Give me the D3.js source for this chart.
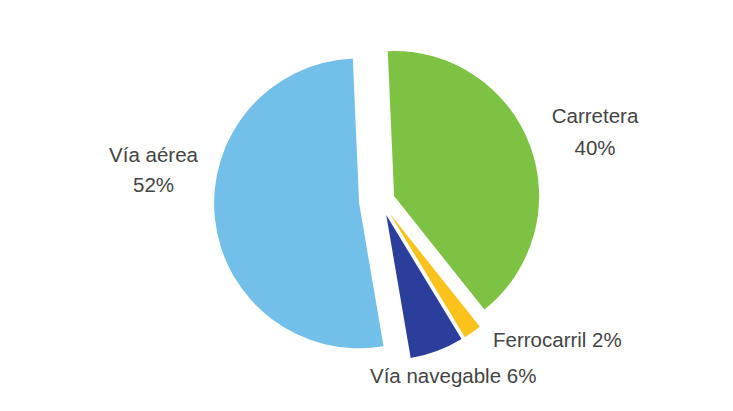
<!DOCTYPE html>
<html>
<head>
<meta charset="utf-8">
<script src="https://cdn.jsdelivr.net/npm/d3@7"></script>
<style>
  html, body { margin: 0; padding: 0; background: #ffffff; }
  svg { display: block; }
  text { font-family: "Liberation Sans", Arial, Helvetica, sans-serif; fill: #444444; }
</style>
</head>
<body>
<svg id="chart" width="733" height="411"></svg>
<script>
// Modal split of transport (percent share)
const categories = ["Carretera", "Ferrocarril", "Vía navegable", "Vía aérea"];
const shares = [40, 2, 6, 52];
const colors = ["#7dc243", "#fbc21b", "#2c3e9c", "#72bfe9"];
// How far each wedge is pulled out from the centre (px)
const explode = [14, 15, 15, 22];

const width = 733, height = 411;
const cx = 381, cy = 201, radius = 145;
const rotation = -2.5 * Math.PI / 180;

const svg = d3.select("#chart");
const g = svg.append("g").attr("transform", `translate(${cx},${cy})`);

const pie = d3.pie()
  .value(d => d.value)
  .sort(null)
  .startAngle(rotation)
  .endAngle(rotation + 2 * Math.PI);

const arc = d3.arc().innerRadius(0).outerRadius(radius);

const data = categories.map((c, i) => ({ name: c, value: shares[i], color: colors[i], pull: explode[i] }));

g.selectAll("path.slice")
  .data(pie(data))
  .join("path")
  .attr("class", "slice")
  .attr("fill", d => d.data.color)
  .attr("transform", d => {
    const mid = (d.startAngle + d.endAngle) / 2;
    const dx = Math.sin(mid) * d.data.pull;
    const dy = -Math.cos(mid) * d.data.pull;
    return `translate(${dx},${dy})`;
  })
  .attr("d", arc);

// Labels
const fs = 20.5;
const labels = [
  { lines: [categories[0], shares[0] + "%"], x: 595, y: 123, anchor: "middle", gap: 32 },
  { lines: [categories[3], shares[3] + "%"], x: 153.5, y: 162, anchor: "middle", gap: 30 },
  { lines: [categories[1] + " " + shares[1] + "%"], x: 493, y: 347, anchor: "start", gap: 0 },
  { lines: [categories[2] + " " + shares[2] + "%"], x: 370, y: 383, anchor: "start", gap: 0 }
];

labels.forEach(l => {
  const t = svg.append("text")
    .attr("text-anchor", l.anchor)
    .attr("font-size", fs);
  l.lines.forEach((s, i) => {
    t.append("tspan")
      .attr("x", l.x)
      .attr("y", l.y + i * l.gap)
      .text(s);
  });
});
</script>
</body>
</html>
